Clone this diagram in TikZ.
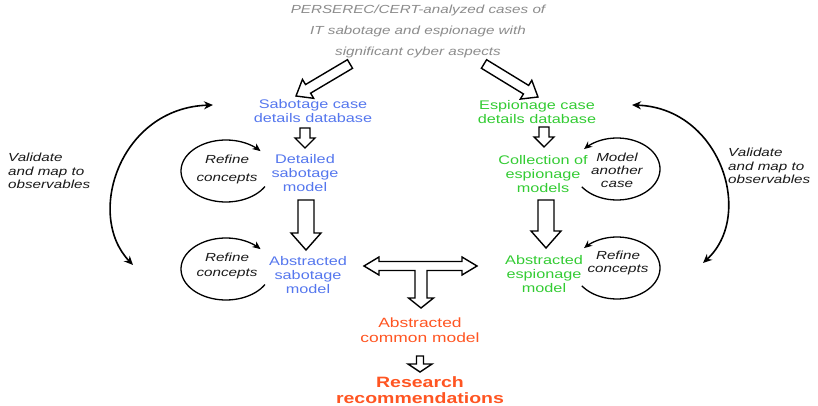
\documentclass[tikz,border=0pt]{standalone}
\usepackage{fontspec}
\newfontfamily\df[FakeStretch=1.3]{Liberation Sans}
\usetikzlibrary{arrows.meta,calc}
\definecolor{sblue}{HTML}{5577EE}
\definecolor{egreen}{HTML}{33CC33}
\definecolor{corange}{HTML}{FF5522}
\definecolor{tgray}{HTML}{8C8C8C}
\definecolor{ink}{HTML}{1A1A1A}
\newcommand\harrow[5]{%
  \draw[hollow] let \p1=(#1), \p2=(#2),
     \n1={atan2(\y2-\y1,\x2-\x1)}, \n2={veclen(\x2-\x1,\y2-\y1)} in
     [shift={(\p1)}, rotate=\n1]
     (0pt,#3pt) -- ({\n2-#5pt},#3pt) -- ({\n2-#5pt},#4pt) -- (\n2,0pt)
     -- ({\n2-#5pt},-#4pt) -- ({\n2-#5pt},-#3pt) -- (0pt,-#3pt) -- cycle;}
\begin{document}
\begin{tikzpicture}[x=1pt,y=-1pt,
  lbl/.style={inner sep=0pt, align=center},
  box/.style={lbl, font={\df\fontsize{12.5}{14}\selectfont}},
  note/.style={lbl, text=ink, font={\df\itshape\fontsize{11.7}{13.5}\selectfont}},
  hollow/.style={draw=black, fill=white, line width=1.4pt, line join=miter},
  loopline/.style={draw=black, line width=1.3pt, -{Stealth[length=8pt,width=7pt]}},
  valline/.style={draw=black, line width=1.6pt, {Stealth[length=9pt,width=8pt]}-{Stealth[length=9pt,width=8pt]}}]
\useasboundingbox[fill=white] (0,0) rectangle (818,406);

% texts
\node[lbl, text=tgray, font={\df\itshape\fontsize{11.7}{21}\selectfont}] (title) at (418,31)
  {PERSEREC/CERT-analyzed cases of\\IT sabotage and espionage with\\significant cyber aspects};
\node[box, text=sblue] (sabdb) at (313,111) {Sabotage case\\details database};
\node[box, text=sblue] (sabdet) at (305,173) {Detailed\\sabotage\\model};
\node[box, text=sblue] (sababs) at (308,275) {Abstracted\\sabotage\\model};
\node[box, text=egreen] (espdb) at (537,112) {Espionage case\\details database};
\node[box, text=egreen] (espcol) at (543,174) {Collection of\\espionage\\models};
\node[box, text=egreen] (espabs) at (544,274) {Abstracted\\espionage\\model};
\node[lbl, text=corange, font={\df\fontsize{13.4}{15}\selectfont}] (common) at (420,330)
  {Abstracted\\common model};
\node[lbl, text=corange, font={\df\bfseries\fontsize{15}{16.5}\selectfont}] (research) at (420,390)
  {Research\\recommendations};

\node[note, font={\df\itshape\fontsize{11.7}{18}\selectfont}] (ref1) at (227,169) {Refine\\concepts};
\node[note, font={\df\itshape\fontsize{11.7}{15}\selectfont}] (ref2) at (227,266) {Refine\\concepts};
\node[note, font={\df\itshape\fontsize{11.7}{13}\selectfont}] (another) at (617,170) {Model\\another\\case};
\node[note, font={\df\itshape\fontsize{11.7}{13}\selectfont}] (ref3) at (618,263) {Refine\\concepts};
\node[note, align=left, anchor=west] (valL) at (8,171) {Validate\\and map to\\observables};
\node[note, align=left, anchor=west] (valR) at (728,166) {Validate\\and map to\\observables};

% hollow arrows
\coordinate (t1) at (350,64);  \coordinate (s1) at (296,96);
\coordinate (t2) at (484,64);  \coordinate (e1) at (538,97);
\harrow{t1}{s1}{5}{11}{14}
\harrow{t2}{e1}{5}{11}{14}
\coordinate (a1) at (305,128); \coordinate (b1) at (305,148);
\coordinate (a2) at (306,200); \coordinate (b2) at (306,250);
\coordinate (a3) at (544,127); \coordinate (b3) at (544,147);
\coordinate (a4) at (546,200); \coordinate (b4) at (546,248);
\coordinate (a5) at (420,356); \coordinate (b5) at (420,372);
\harrow{a1}{b1}{5}{10}{10}
\harrow{a2}{b2}{8}{15}{17}
\harrow{a3}{b3}{5}{10}{10}
\harrow{a4}{b4}{8}{15}{17}
\harrow{a5}{b5}{3.5}{12}{8}

% T-shaped hollow arrow
\coordinate (tl) at (364,266); \coordinate (tr) at (477,266); \coordinate (tb) at (421,308);
\draw[hollow] (tl) -- ($(tl)+(15,-9)$) -- ($(tl)+(15,-4.5)$) -- ($(tr)+(-15,-4.5)$)
  -- ($(tr)+(-15,-9)$) -- (tr) -- ($(tr)+(-15,9)$) -- ($(tr)+(-15,4.5)$)
  -- ($(tb)+(6,-37.5)$) -- ($(tb)+(6,-10)$) -- ($(tb)+(12.5,-10)$) -- (tb)
  -- ($(tb)+(-12.5,-10)$) -- ($(tb)+(-6,-10)$) -- ($(tb)+(-6,-37.5)$)
  -- ($(tl)+(15,4.5)$) -- ($(tl)+(15,9)$) -- cycle;

% loops
\draw[loopline] plot[domain=30:320, samples=60, smooth] ({226+45*cos(\x)},{171+31*sin(\x)});
\draw[loopline] plot[domain=30:320, samples=60, smooth] ({226+45*cos(\x)},{269+31*sin(\x)});
\draw[loopline, {Stealth[length=8pt,width=7pt]}-] plot[domain=-140:145, samples=60, smooth] ({617+43*cos(\x)},{169+31*sin(\x)});
\draw[loopline, {Stealth[length=8pt,width=7pt]}-] plot[domain=-140:145, samples=60, smooth] ({617+43*cos(\x)},{268+31*sin(\x)});

% validate arrows
\coordinate (vl1) at (213,105); \coordinate (vl2) at (133,265);
\coordinate (vr1) at (632,105); \coordinate (vr2) at (703,263);
\draw[valline] (vl1) .. controls (120,108) and (85,215) .. (vl2);
\draw[valline] (vr1) .. controls (720,108) and (755,215) .. (vr2);
\end{tikzpicture}
\end{document}
